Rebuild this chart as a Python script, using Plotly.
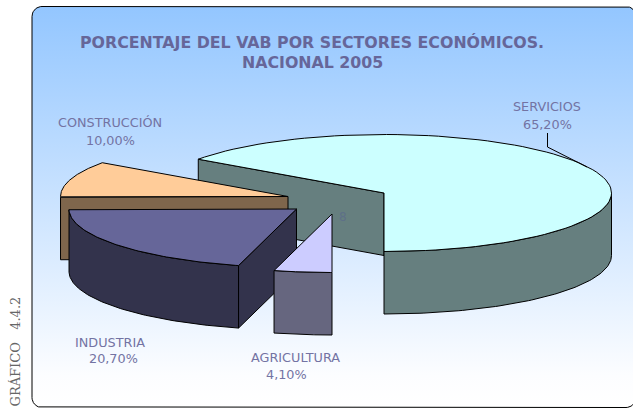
import numpy as np
import plotly.graph_objects as go

categories = ["SERVICIOS", "CONSTRUCCIÓN", "INDUSTRIA", "AGRICULTURA"]
values = [65.2, 10.0, 20.7, 4.1]
title_lines = ["PORCENTAJE DEL VAB POR SECTORES ECONÓMICOS.", "NACIONAL 2005"]
side_label = "GRÁFICO   4.4.2"

top_colors = {"SERVICIOS": "#CCFFFF", "CONSTRUCCIÓN": "#FFCC99", "INDUSTRIA": "#666699", "AGRICULTURA": "#CCCCFF"}
wall_colors = {"SERVICIOS": "#667F7F", "CONSTRUCCIÓN": "#7F664C", "INDUSTRIA": "#33334C", "AGRICULTURA": "#66667F"}
centers = {"SERVICIOS": (384, 193), "CONSTRUCCIÓN": (288, 196.5), "INDUSTRIA": (296.5, 209), "AGRICULTURA": (332, 214)}
label_pos = {"SERVICIOS": ((547, 106.5), (547, 124)), "CONSTRUCCIÓN": ((110, 122), (110, 140)),
             "INDUSTRIA": ((110, 342), (113, 358)), "AGRICULTURA": ((295, 357), (286, 374))}
RX, RY, DEPTH = 227.5, 58.5, 62.5
TEXT = "#666699"
LABEL = "#7373A3"

# slice angles measured clockwise on screen from 12 o'clock; pie starts at 6 o'clock with AGRICULTURA
order = ["AGRICULTURA", "INDUSTRIA", "CONSTRUCCIÓN", "SERVICIOS"]
val = dict(zip(categories, values))
angles, a = {}, 180.0
for c in order:
    angles[c] = (a, a + val[c] * 3.6)
    a += val[c] * 3.6


def rim(c, a0, a1, dz=0.0):
    cx, cy = centers[c]
    t = np.radians(np.linspace(a0, a1, 90))
    return cx + RX * np.sin(t), cy - RY * np.cos(t) + dz


def poly(xs, ys, color):
    return go.Scatter(x=list(xs), y=list(ys), mode="lines", fill="toself", fillcolor=color,
                      line=dict(color="#000000", width=1), hoverinfo="skip", showlegend=False)


def apex(c, dz=0.0):
    return centers[c][0], centers[c][1] + dz


def top(c):
    x, y = rim(c, *angles[c])
    ax, ay = apex(c)
    return poly(np.r_[ax, x, ax], np.r_[ay, y, ay], top_colors[c])


def outer_wall(c, a0, a1):
    x, y = rim(c, a0, a1)
    xb, yb = rim(c, a1, a0, DEPTH)
    return poly(np.r_[x, xb, x[0]], np.r_[y, yb, y[0]], wall_colors[c])


def cut_wall(c, ang):
    x, y = rim(c, ang, ang)
    ax, ay = apex(c)
    return poly([ax, x[0], x[0], ax, ax], [ay, y[0], y[0] + DEPTH, ay + DEPTH, ay], wall_colors[c])


fig = go.Figure()

# rounded panel with vertical gradient
L, T, R_, B, r = 32, 6.5, 636, 407.5, 10
th = np.radians(np.linspace(0, 90, 10))
px = np.r_[L + r - r * np.cos(th), R_ - r + r * np.sin(th), R_ - r + r * np.cos(th), L + r - r * np.sin(th), L + r - r]
py = np.r_[T + r - r * np.sin(th), T + r - r * np.cos(th), B - r + r * np.sin(th), B - r + r * np.cos(th), T + r]
fig.add_trace(go.Scatter(x=px, y=py, mode="lines", fill="toself",
                         fillgradient=dict(type="vertical", colorscale=[[0, "#FFFFFF"], [0.08, "#FCFDFF"], [1, "#93C6FF"]]),
                         line=dict(color="#000000", width=1), hoverinfo="skip", showlegend=False))

# SERVICIOS
c = "SERVICIOS"
fig.add_trace(cut_wall(c, angles[c][0]))
fig.add_trace(outer_wall(c, 450, 540))
fig.add_trace(top(c))
# leader line
fig.add_trace(go.Scatter(x=[547.5, 547.5, 587], y=[133, 147, 167], mode="lines",
                         line=dict(color="#000000", width=1), hoverinfo="skip", showlegend=False))
# CONSTRUCCIÓN
c = "CONSTRUCCIÓN"
fig.add_trace(cut_wall(c, angles[c][0]))
fig.add_trace(top(c))
# INDUSTRIA
c = "INDUSTRIA"
fig.add_trace(outer_wall(c, *angles[c]))
fig.add_trace(cut_wall(c, angles[c][0]))
fig.add_trace(top(c))
# AGRICULTURA
c = "AGRICULTURA"
fig.add_trace(outer_wall(c, *angles[c]))
fig.add_trace(top(c))

ann = []
for y, line in zip((42, 62), title_lines):
    ann.append(dict(x=312, y=y, text=f"<b>{line}</b>", showarrow=False,
                    font=dict(family="DejaVu Sans", size=15.8, color=TEXT)))
for c in categories:
    (x1, y1), (x2, y2) = label_pos[c]
    ann.append(dict(x=x1, y=y1, text=c, showarrow=False, font=dict(family="DejaVu Sans", size=12.8, color=LABEL)))
    ann.append(dict(x=x2, y=y2, text=f"{val[c]:.2f}%".replace(".", ","), showarrow=False,
                    font=dict(family="DejaVu Sans", size=12.8, color=LABEL)))
ann.append(dict(x=343, y=217, text="8", showarrow=False, font=dict(family="DejaVu Sans", size=12, color="#5E7088")))
ann.append(dict(x=14.5, y=352, text=side_label, textangle=-90, showarrow=False,
                font=dict(family="DejaVu Serif", size=13, color="#666666")))
for a_ in ann:
    a_.update(xref="x", yref="y", xanchor="center", yanchor="middle")

fig.update_layout(width=633, height=408, margin=dict(l=0, r=0, t=0, b=0), autosize=False,
                  paper_bgcolor="#FFFFFF", plot_bgcolor="rgba(0,0,0,0)", annotations=ann,
                  xaxis=dict(range=[0, 633], visible=False, fixedrange=True),
                  yaxis=dict(range=[408, 0], visible=False, fixedrange=True))
fig.write_html("out.html", config=dict(displayModeBar=False),
               post_script="document.body.style.margin='0';document.body.style.overflow='hidden';")
